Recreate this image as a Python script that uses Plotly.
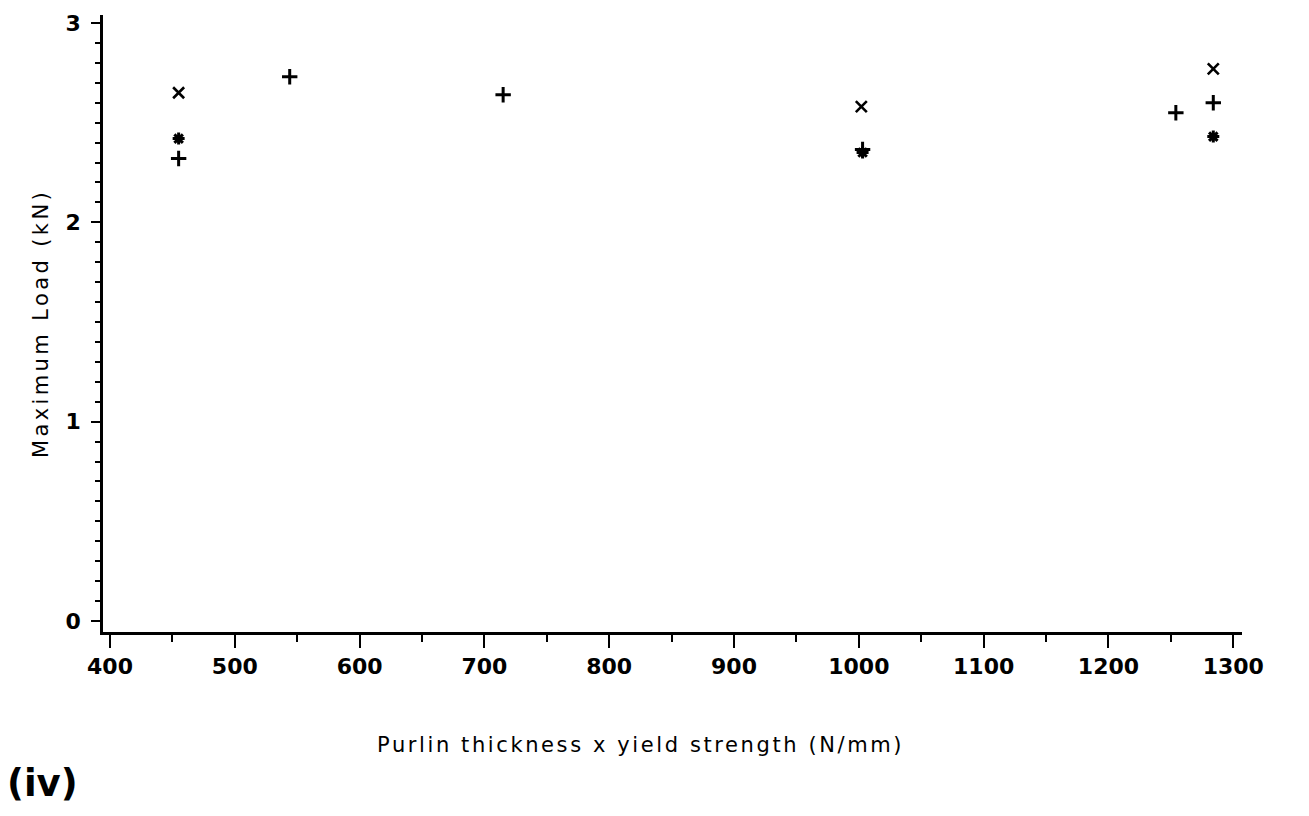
import plotly.graph_objects as go

# Purlin thickness x yield strength (N/mm) against maximum load (kN)
plus_x = [455, 544, 715, 1003, 1254, 1284]
plus_y = [2.32, 2.73, 2.64, 2.365, 2.55, 2.60]

star_x = [455, 1003, 1284]
star_y = [2.42, 2.35, 2.43]

cross_x = [455, 1002, 1284]
cross_y = [2.65, 2.58, 2.77]

x_ticks = [400, 500, 600, 700, 800, 900, 1000, 1100, 1200, 1300]
y_ticks = [0, 1, 2, 3]

FONT = "DejaVu Sans"


def spaced(text, px):
    return f'<span style="letter-spacing:{px}px">{text}</span>'


fig = go.Figure()
fig.add_trace(go.Scatter(
    x=plus_x, y=plus_y, mode="markers", name="+",
    marker=dict(symbol="cross-thin", size=11, color="black",
                line=dict(color="black", width=3)),
))
fig.add_trace(go.Scatter(
    x=star_x, y=star_y, mode="markers", name="*",
    marker=dict(symbol="asterisk", size=10, color="black",
                line=dict(color="black", width=3)),
))
fig.add_trace(go.Scatter(
    x=cross_x, y=cross_y, mode="markers", name="x",
    marker=dict(symbol="x-thin", size=11, color="black",
                line=dict(color="black", width=2.6)),
))

fig.update_layout(
    width=1309, height=816,
    margin=dict(l=103, r=67, t=15, b=184),
    plot_bgcolor="white", paper_bgcolor="white",
    showlegend=False,
    font=dict(family=FONT, color="black"),
    xaxis=dict(
        range=[394.4, 1307], tickvals=x_ticks,
        ticktext=[str(v) for v in x_ticks],
        showgrid=False, zeroline=False,
        showline=True, linecolor="black", linewidth=2.5,
        ticks="outside", ticklen=13, tickwidth=2.2, tickcolor="black",
        tickfont=dict(size=22, family=FONT, weight="bold"),
        minor=dict(dtick=50, tick0=400, ticks="outside", ticklen=7,
                   tickwidth=2, tickcolor="black"),
    ),
    yaxis=dict(
        range=[-0.055, 3.04], tickvals=y_ticks,
        ticktext=[str(v) for v in y_ticks],
        showgrid=False, zeroline=False,
        showline=True, linecolor="black", linewidth=2.5,
        ticks="outside", ticklen=9, tickwidth=2.2, tickcolor="black",
        ticklabelstandoff=6,
        tickfont=dict(size=22, family=FONT, weight="bold"),
        minor=dict(dtick=0.1, tick0=0, ticks="outside", ticklen=5,
                   tickwidth=2, tickcolor="black"),
        title=dict(text=spaced("Maximum Load (kN)", 3.4),
                   font=dict(size=21, family=FONT), standoff=12),
    ),
    annotations=[
        # x-axis title, set slightly left of the plot centre
        dict(
            text=spaced("Purlin thickness x yield strength (N/mm)", 2.6),
            xref="paper", yref="paper", x=0.4723, y=-0.183,
            xanchor="center", yanchor="middle", showarrow=False,
            font=dict(size=21, family=FONT),
        ),
        dict(
            text="(iv)", xref="paper", yref="paper",
            x=-0.0527, y=-0.245, xanchor="center", yanchor="middle",
            showarrow=False, font=dict(size=37, family=FONT, weight="bold"),
        ),
    ],
)

fig.write_html("out.html")
